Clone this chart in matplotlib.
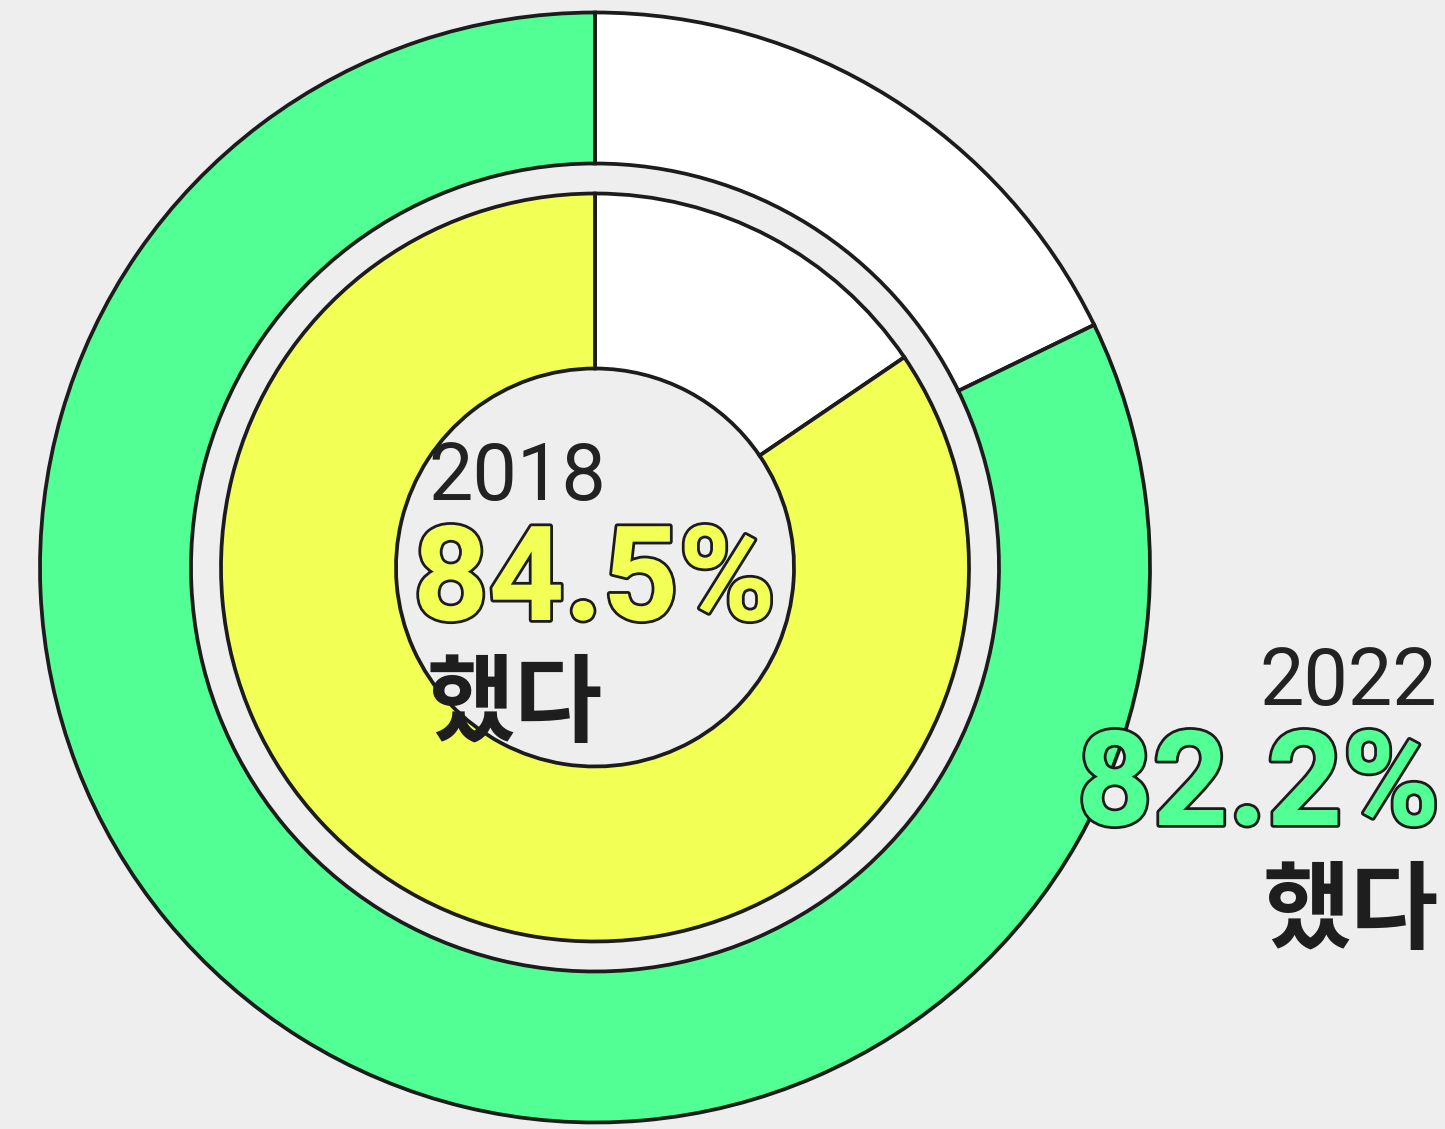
import matplotlib.pyplot as plt
import matplotlib.patheffects as pe

# survey share that answered "했다"
years = ["2018", "2022"]
did = [84.5, 82.2]
did_not = [100 - v for v in did]
answer = "했다"

green = "#52ff94"
yellow = "#f2ff55"
edge = "#1c1c1c"
bg = "#eeeeee"

W, H = 1445, 1129
fig = plt.figure(figsize=(W / 100, H / 100), dpi=100, facecolor=bg)
ax = fig.add_axes([0, 0, 1, 1])
ax.set_facecolor(bg)

cx, cy = 595, H - 567.5

# outer ring: 2022
ax.pie([did_not[1], did[1]], colors=["white", green], startangle=90,
       counterclock=False, radius=555, center=(cx, cy),
       wedgeprops=dict(width=151, edgecolor=edge, linewidth=2.7))
# inner ring: 2018
ax.pie([did_not[0], did[0]], colors=["white", yellow], startangle=90,
       counterclock=False, radius=374, center=(cx, cy),
       wedgeprops=dict(width=175, edgecolor=edge, linewidth=2.7))

ax.set_xlim(0, W)
ax.set_ylim(0, H)
ax.set_aspect("equal")
ax.axis("off")

outline = [pe.withStroke(linewidth=4, foreground=edge)]
num_font = ["Roboto", "DejaVu Sans"]
kr_font = ["Noto Sans CJK KR", "DejaVu Sans"]

# 2018 label inside the hole
ax.text(428, H - 500, years[0], fontsize=57, family=num_font, color="#222222",
        ha="left", va="baseline")
ax.text(413, H - 620, f"{did[0]}%", fontsize=95, family=num_font,
        fontweight="bold", color=yellow, ha="left", va="baseline",
        path_effects=outline)
ax.text(426, H - 706, answer, fontsize=69, family=kr_font, fontweight="bold",
        color="#1e1e1e", ha="left", va="center")

# 2022 label at right
ax.text(1437, H - 705, years[1], fontsize=57, family=num_font, color="#222222",
        ha="right", va="baseline")
ax.text(1440, H - 825, f"{did[1]}%", fontsize=95, family=num_font,
        fontweight="bold", color=green, ha="right", va="baseline",
        path_effects=outline)
ax.text(1439, H - 913, answer, fontsize=69, family=kr_font, fontweight="bold",
        color="#1e1e1e", ha="right", va="center")

fig.savefig("out.png", dpi=100, facecolor=bg)
